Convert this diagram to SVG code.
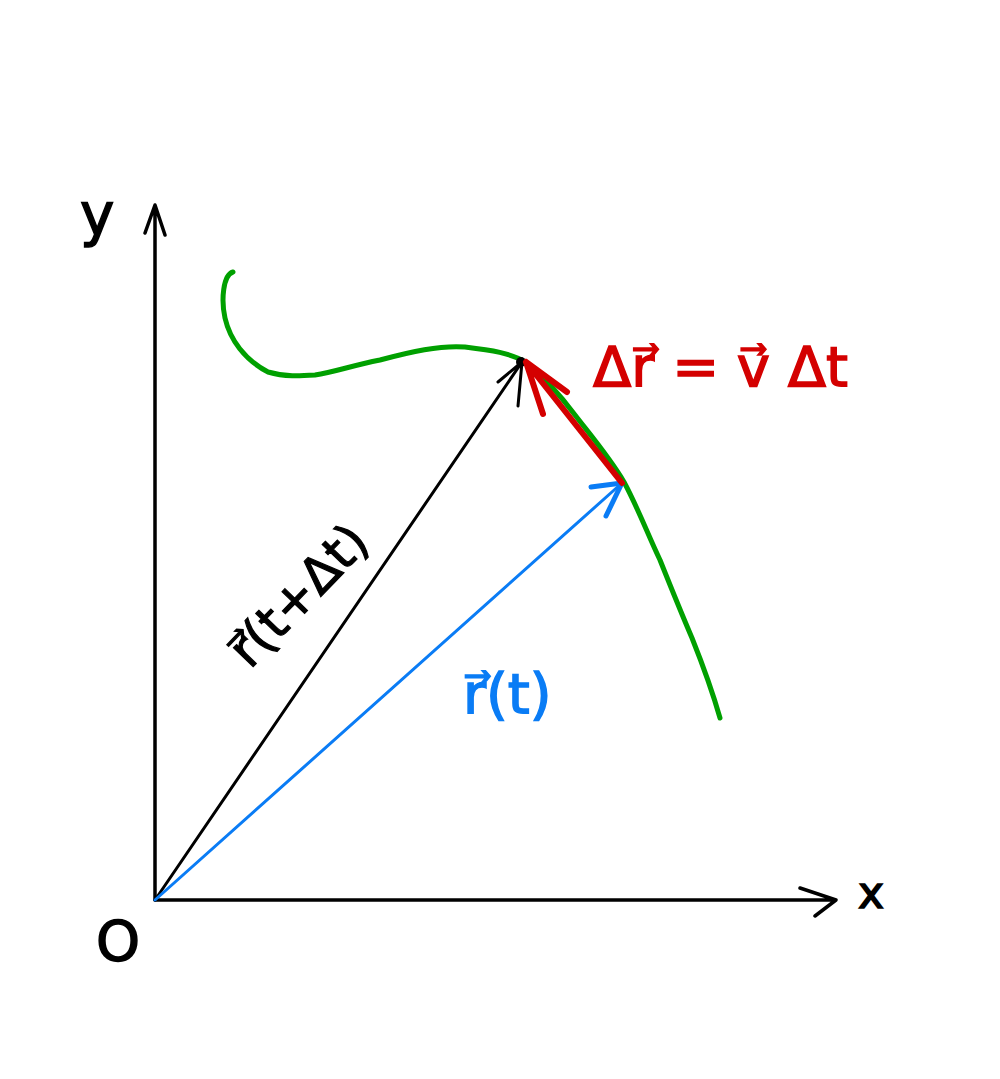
<svg xmlns="http://www.w3.org/2000/svg" width="1000" height="1079" viewBox="0 0 1000 1079">
<style>
.ln{fill:none;stroke-linecap:round;stroke-linejoin:round}
.lbl{font-family:"DejaVu Sans","Noto Sans",sans-serif}
</style>
<rect width="1000" height="1079" fill="#fff"/>
<g id="axes">
  <path class="ln" d="M155,900 L155,205 M145,233 L155,205 L165,235" stroke="#000" stroke-width="3.5"/>
  <path class="ln" d="M155,900 L835,900 M800,888 L836,900 L815,916" stroke="#000" stroke-width="3.5"/>
</g>
<g id="trajectory">
  <path class="ln" stroke="#00a000" stroke-width="5" d="M233,272 C223,275 221,300 225,318 C230,340 245,360 268,372 C285,377 300,376 315,375 C335,372 350,366 380,360 C410,352 440,345 465,347 C490,350 512,353 527,363 C545,378 560,395 575,415 C592,437 610,458 624,482 C638,508 648,535 660,560 C670,585 680,610 692,638 C704,668 712,690 720,718"/>
</g>
<g id="connectors">
  <g id="r-t-dt">
    <path class="ln" d="M155,900 L522,362 M498,382 L522,362 L518,406" stroke="#000" stroke-width="3"/>
    <circle cx="521" cy="362" r="5" fill="#000"/>
  </g>
  <g id="r-t">
    <path class="ln" d="M155,900 L622,483" stroke="#0a7cf5" stroke-width="3"/>
    <path class="ln" d="M591,487 L622,483 L606,516" stroke="#0a7cf5" stroke-width="5"/>
  </g>
  <g id="delta-r">
    <path class="ln" d="M622,483 L526,362 M567,392 L526,362 L543,414" stroke="#d40000" stroke-width="6"/>
  </g>
</g>
<g id="labels">
  <text class="lbl" x="80" y="235" font-size="58" fill="#000" stroke="#000" stroke-width="1.5">y</text>
  <text class="lbl" x="858" y="908" font-size="44" fill="#000" stroke="#000" stroke-width="1.5">x</text>
  <text class="lbl" x="96" y="960" font-size="56" fill="#000" stroke="#000" stroke-width="1.5">O</text>
  <text class="lbl" x="593" y="386" font-size="56" fill="#d40000" stroke="#d40000" stroke-width="1.5">Δr⃗ = v⃗ Δt</text>
  <text class="lbl" x="463" y="713" font-size="56" fill="#0a7cf5" stroke="#0a7cf5" stroke-width="1.5">r⃗(t)</text>
  <text class="lbl" transform="translate(250,670) rotate(-46)" font-size="50" fill="#000" stroke="#000" stroke-width="1.2">r⃗(t+Δt)</text>
</g>
</svg>
